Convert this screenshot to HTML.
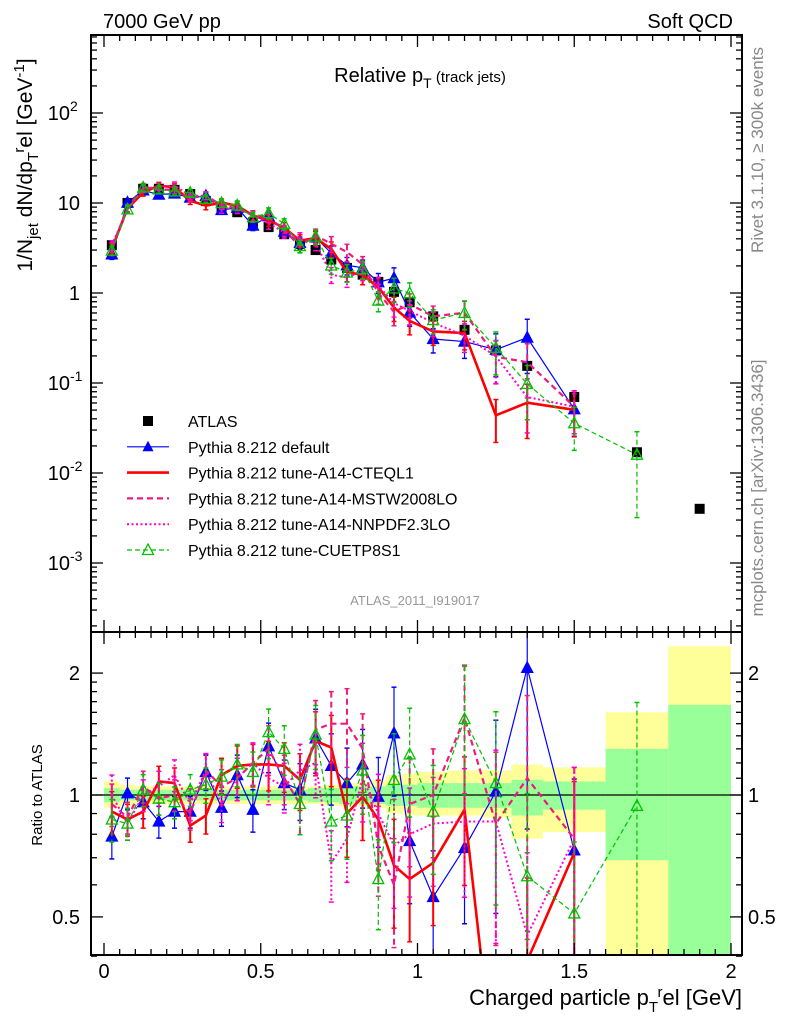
<!DOCTYPE html>
<html><head><meta charset="utf-8"><style>
html,body{margin:0;padding:0;background:#fff;width:786px;height:1024px;overflow:hidden}
svg{display:block;font-family:"Liberation Sans",sans-serif}
</style></head><body>
<svg id="c" width="786" height="1024" viewBox="0 0 786 1024" xmlns="http://www.w3.org/2000/svg">
<defs>
<clipPath id="clipTop"><rect x="91" y="35" width="651" height="597"/></clipPath>
<clipPath id="clipBot"><rect x="91" y="632" width="651" height="323"/></clipPath>
</defs>
<g id="bands" clip-path="url(#clipBot)"></g>
<g id="botSeries" clip-path="url(#clipBot)"></g>
<g id="topSeries" clip-path="url(#clipTop)"></g>
<g id="axes"></g>
<text x="103" y="28" font-size="20">7000 GeV pp</text>
<text x="733" y="28" font-size="20" text-anchor="end">Soft QCD</text>
<text x="420" y="82" font-size="20" text-anchor="middle">Relative p<tspan font-size="14" dy="6">T</tspan><tspan font-size="15" dy="-6"> (track jets)</tspan></text>
<text x="415" y="605" font-size="13" fill="#999" text-anchor="middle">ATLAS_2011_I919017</text>
<text transform="translate(763,150) rotate(-90)" font-size="17" fill="#888" text-anchor="middle">Rivet 3.1.10, ≥ 300k events</text>
<text transform="translate(763,488) rotate(-90)" font-size="17" fill="#888" text-anchor="middle">mcplots.cern.ch [arXiv:1306.3436]</text>
<text transform="translate(32,165) rotate(-90)" font-size="21" text-anchor="middle">1/N<tspan font-size="15" dy="6">jet</tspan><tspan dy="-6"> dN/dp</tspan><tspan font-size="15" dy="6">T</tspan><tspan font-size="15" dy="-14">r</tspan><tspan dy="8">el [GeV</tspan><tspan font-size="15" dy="-8">-1</tspan><tspan dy="8">]</tspan></text>
<text transform="translate(42,795) rotate(-90)" font-size="15" text-anchor="middle">Ratio to ATLAS</text>
<text x="742" y="1005" font-size="22" text-anchor="end">Charged particle p<tspan font-size="15" dy="7">T</tspan><tspan font-size="15" dy="-15">r</tspan><tspan dy="8">el [GeV]</tspan></text>
<g id="legend"></g>
</svg>
<script>
const centers=[0.025,0.075,0.125,0.175,0.225,0.275,0.325,0.375,0.425,0.475,0.525,0.575,0.625,0.675,0.725,0.775,0.825,0.875,0.925,0.975,1.05,1.15,1.25,1.35,1.5,1.7,1.9];
const binEdges=[0,0.05,0.1,0.15,0.2,0.25,0.3,0.35,0.4,0.45,0.5,0.55,0.6,0.65,0.7,0.75,0.8,0.85,0.9,0.95,1.0,1.1,1.2,1.3,1.4,1.6,1.8,2.0];
const atlas=[3.4,10,14.4,14.4,14,12.6,10.5,9,7.9,6.1,5.4,4.5,3.5,3.0,2.35,1.9,1.6,1.33,1.03,0.79,0.55,0.39,0.23,0.155,0.07,0.017,0.004];
const ratioDefault=[0.79,1.01,0.96,0.86,0.91,0.91,1.14,0.93,1.12,0.92,1.32,1.07,1.03,1.38,1.18,1.07,1.19,0.99,1.42,0.77,0.56,0.74,1.02,2.06,0.73];
const ratioCTEQ=[0.91,0.87,0.91,1.08,1.07,0.84,0.89,1.12,1.18,1.19,1.19,1.18,1.09,1.36,1.31,0.90,0.99,0.87,0.67,0.62,0.68,0.92,0.19,0.39,0.72];
const ratioMSTW=[0.95,0.88,1.05,0.98,1.0,0.9,1.15,1.05,1.1,1.2,1.3,1.1,0.95,1.45,1.5,1.5,1.3,0.75,0.6,0.95,1.0,1.55,0.85,1.1,0.78];
const ratioNNPDF=[1.0,0.85,1.0,1.05,1.12,0.95,1.15,0.95,1.1,1.2,1.1,1.05,1.15,1.2,0.68,0.78,1.1,0.9,0.75,0.8,0.85,0.86,0.86,0.45,0.78];
const ratioCUETP=[0.87,0.85,1.03,0.98,0.96,1.03,1.06,1.11,1.19,1.14,1.43,1.30,0.95,1.41,0.86,0.89,1.15,0.62,1.09,1.26,0.91,1.54,1.07,0.63,0.51,0.94];
const mcErr=[0.12,0.09,0.09,0.09,0.09,0.09,0.1,0.1,0.12,0.12,0.14,0.14,0.16,0.18,0.2,0.22,0.22,0.25,0.3,0.3,0.3,0.35,0.5,0.6,0.5,0.8];
const totHi=[1.08,1.06,1.05,1.05,1.05,1.05,1.05,1.05,1.05,1.05,1.05,1.05,1.05,1.05,1.06,1.07,1.07,1.09,1.12,1.13,1.14,1.15,1.15,1.19,1.17,1.6,2.33];
const totLo=[0.93,0.94,0.95,0.95,0.95,0.95,0.95,0.95,0.95,0.95,0.95,0.95,0.95,0.95,0.94,0.94,0.94,0.93,0.9,0.89,0.89,0.89,0.88,0.78,0.81,0.3,0.3];
const statHi=[1.04,1.03,1.03,1.03,1.03,1.03,1.03,1.03,1.03,1.03,1.03,1.03,1.03,1.04,1.04,1.05,1.05,1.05,1.06,1.06,1.07,1.07,1.07,1.09,1.08,1.3,1.67];
const statLo=[0.96,0.97,0.97,0.97,0.97,0.97,0.97,0.97,0.97,0.97,0.97,0.97,0.97,0.96,0.96,0.95,0.95,0.95,0.94,0.94,0.93,0.93,0.93,0.89,0.92,0.69,0.3];
const xTicks=[0,0.5,1,1.5,2];
const xTickLabels=["0","0.5","1","1.5","2"];
const ratioTicks=[0.5,1,2];
const ratioTickLabels=["0.5","1","2"];

const NS="http://www.w3.org/2000/svg";
const X=v=>104+v*313.5;
const YT=v=>293-90*Math.log10(v);
const YB=v=>795-405*Math.log10(v);
function mk(parent,tag,attrs){const e=document.createElementNS(NS,tag);for(const k in attrs)e.setAttribute(k,attrs[k]);parent.appendChild(e);return e;}
const axes=document.getElementById('axes'),bands=document.getElementById('bands'),bot=document.getElementById('botSeries'),top_=document.getElementById('topSeries'),leg=document.getElementById('legend');

for(let i=0;i<totHi.length;i++){
  const x0=X(binEdges[i]),x1=X(binEdges[i+1]);
  const y=mk(bands,'rect',{x:x0,y:YB(totHi[i]),width:x1-x0,height:YB(totLo[i])-YB(totHi[i]),fill:'#ffff99'});
  
  
  const g=mk(bands,'rect',{x:x0,y:YB(statHi[i]),width:x1-x0,height:YB(statLo[i])-YB(statHi[i]),fill:'#99ff99'});
  
  
}
const one=mk(bands,'line',{x1:91,x2:742,y1:YB(1),y2:YB(1),stroke:'#000','stroke-width':1.2});



const series=[
 {r:ratioDefault,c:'#0000ff',w:1.2,d:'',m:'tri',name:'pythia-default'},
 {r:ratioCTEQ,c:'#ff0000',w:2.6,d:'',m:'none',name:'pythia-a14-cteql1'},
 {r:ratioMSTW,c:'#f01a7c',w:2.2,d:'6,4',m:'none',name:'pythia-a14-mstw2008lo'},
 {r:ratioNNPDF,c:'#ff00cc',w:2,d:'2,2.5',m:'none',name:'pythia-a14-nnpdf23lo'},
 {r:ratioCUETP,c:'#00c000',w:1.2,d:'5,3',m:'otri',name:'pythia-cuetp8s1'}
];
function tri(g,x,y,s,filled){const p=mk(g,'polygon',{points:`${x},${y-6} ${x-5.5},${y+4.5} ${x+5.5},${y+4.5}`,fill:filled?s.c:'none',stroke:s.c,'stroke-width':1.3});}
function drawSeries(g,s,Y,vals){
  const grp=mk(g,'g',{});
  
  
  let pts=[];
  vals.forEach((v,i)=>{pts.push(X(centers[i])+','+Y(v));});
  vals.forEach((v,i)=>{
    const e=mcErr[i];const x=X(centers[i]);
    const y1=Y(v*(1+e)),y2=Y(Math.max(v*(1-e),1e-6));
    const el=mk(grp,'line',{x1:x,x2:x,y1:y1,y2:y2,stroke:s.c,'stroke-width':Math.min(s.w,2),'stroke-dasharray':s.d});
    
    
    mk(grp,'line',{x1:x-2.5,x2:x+2.5,y1:y1,y2:y1,stroke:s.c,'stroke-width':1.5});
    mk(grp,'line',{x1:x-2.5,x2:x+2.5,y1:y2,y2:y2,stroke:s.c,'stroke-width':1.5});
  });
  const pl=mk(grp,'polyline',{points:pts.join(' '),fill:'none',stroke:s.c,'stroke-width':s.w,'stroke-dasharray':s.d,'stroke-linejoin':'round'});
  
  
  vals.forEach((v,i)=>{const x=X(centers[i]),y=Y(v);
    if(s.m==='tri')tri(grp,x,y,s,true);else if(s.m==='otri')tri(grp,x,y,s,false);});
}
const ag=mk(top_,'g',{});


atlas.forEach((v,i)=>{const r=mk(ag,'rect',{x:X(centers[i])-5,y:YT(v)-5,width:10,height:10,fill:'#000'});
  
  });
series.forEach(s=>{drawSeries(top_,s,YT,s.r.map((r,i)=>r*atlas[i]));});
series.forEach(s=>{drawSeries(bot,s,YB,s.r);});

function frame(y0,y1){const f=mk(axes,'rect',{x:91,y:y0,width:651,height:y1-y0,fill:'none',stroke:'#000','stroke-width':2});}
frame(35,632);frame(632,955);
for(let k=0;k<=40;k++){const v=k*0.05;const x=X(v);const maj=k%10===0;const L=maj?12:6;
  [[632,-1],[955,-1],[35,1],[632,1]].forEach(([y,dir])=>mk(axes,'line',{x1:x,x2:x,y1:y,y2:y+dir*L,stroke:'#000','stroke-width':1.3}));}
xTicks.forEach((v,i)=>{const t=mk(axes,'text',{x:X(v),y:978,'font-size':20,'text-anchor':'middle'});t.textContent=xTickLabels[i];
  
  });
for(let d=-4;d<=2;d++){for(let m=1;m<=9;m++){const v=m*Math.pow(10,d);const y=YT(v);if(y<35||y>632)continue;const L=m===1?12:6;
  mk(axes,'line',{x1:91,x2:91+L,y1:y,y2:y,stroke:'#000','stroke-width':1.3});
  mk(axes,'line',{x1:742,x2:742-L,y1:y,y2:y,stroke:'#000','stroke-width':1.3});}}
const decLabels=[[2,'10','2'],[1,'10',''],[0,'1',''],[-1,'10','-1'],[-2,'10','-2'],[-3,'10','-3']];
decLabels.forEach(([d,b,e])=>{const t=mk(axes,'text',{x:e?70:80,y:YT(Math.pow(10,d))+7,'font-size':20,'text-anchor':'end'});t.textContent=b;
  
  
  if(e){const s=mk(axes,'text',{x:70,y:YT(Math.pow(10,d))-2,'font-size':14});s.textContent=e;}});
[0.4,0.5,0.6,0.7,0.8,0.9,1,2].forEach(v=>{const y=YB(v);const L=(v===0.5||v===1||v===2)?12:6;
  mk(axes,'line',{x1:91,x2:91+L,y1:y,y2:y,stroke:'#000','stroke-width':1.3});
  mk(axes,'line',{x1:742,x2:742-L,y1:y,y2:y,stroke:'#000','stroke-width':1.3});});
for(let v=1.1;v<2;v+=0.1){const y=YB(v);mk(axes,'line',{x1:91,x2:97,y1:y,y2:y,stroke:'#000','stroke-width':1.3});mk(axes,'line',{x1:742,x2:736,y1:y,y2:y,stroke:'#000','stroke-width':1.3});}
ratioTicks.forEach((v,i)=>{[[80,'end'],[748,'start']].forEach(([x,a])=>{const t=mk(axes,'text',{x:x,y:YB(v)+7,'font-size':20,'text-anchor':a});t.textContent=ratioTickLabels[i];
  
  });});

const legItems=[
 {label:'ATLAS',c:'#000',w:0,d:'',m:'sq'},
 {label:'Pythia 8.212 default',c:'#0000ff',w:1.2,d:'',m:'tri'},
 {label:'Pythia 8.212 tune-A14-CTEQL1',c:'#ff0000',w:2.6,d:'',m:'none'},
 {label:'Pythia 8.212 tune-A14-MSTW2008LO',c:'#f01a7c',w:2.2,d:'6,4',m:'none'},
 {label:'Pythia 8.212 tune-A14-NNPDF2.3LO',c:'#ff00cc',w:2,d:'2,2.5',m:'none'},
 {label:'Pythia 8.212 tune-CUETP8S1',c:'#00c000',w:1.2,d:'5,3',m:'otri'}];
legItems.forEach((it,i)=>{const y=421+i*25.8;const g=mk(leg,'g',{});
  
  
  if(it.w)mk(g,'line',{x1:127,x2:169,y1:y,y2:y,stroke:it.c,'stroke-width':it.w,'stroke-dasharray':it.d});
  if(it.m==='sq')mk(g,'rect',{x:143,y:y-5,width:10,height:10,fill:'#000'});
  if(it.m==='tri')mk(g,'polygon',{points:`148,${y-6} 142.5,${y+4.5} 153.5,${y+4.5}`,fill:it.c});
  if(it.m==='otri')mk(g,'polygon',{points:`148,${y-6} 142.5,${y+4.5} 153.5,${y+4.5}`,fill:'none',stroke:it.c,'stroke-width':1.3});
  const t=mk(g,'text',{x:188,y:y+6,'font-size':16});t.textContent=it.label;});
</script>
</body></html>
